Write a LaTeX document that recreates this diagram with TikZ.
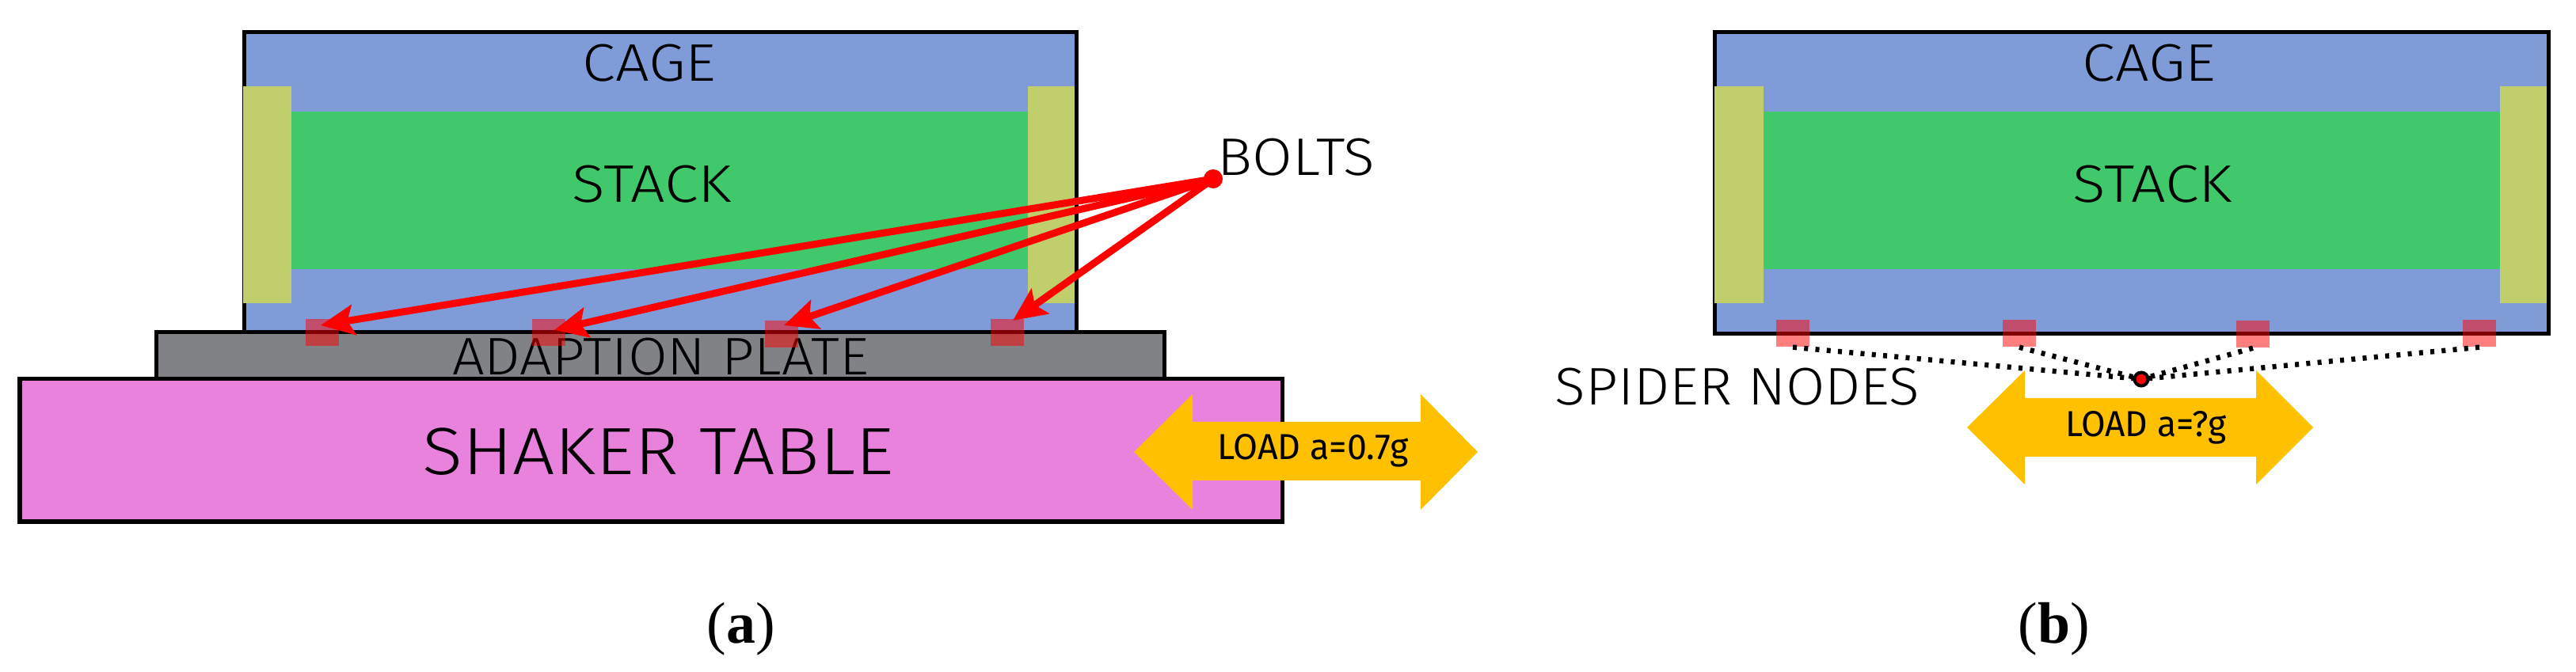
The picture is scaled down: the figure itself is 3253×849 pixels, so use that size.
\documentclass[tikz,border=0pt]{standalone}
\usepackage{fontspec}
\setmainfont{Fira Sans Light}
\newfontfamily\capfont{Liberation Serif}
\newfontfamily\loadfont{Fira Sans}
\usetikzlibrary{arrows.meta}
\definecolor{cageblue}{HTML}{7F9CD8}
\definecolor{stackgreen}{HTML}{40C96B}
\definecolor{sideyellow}{HTML}{C0CE6C}
\definecolor{plategray}{HTML}{808285}
\definecolor{tablepink}{HTML}{E982DD}
\definecolor{loadgold}{HTML}{FFC000}
\tikzset{
  x=0.01cm,y=-0.01cm,
  box/.style={draw=black,line width=0.05cm},
  lbl/.style={inner sep=0pt,text=black},
  boltbox/.style={fill=red,fill opacity=.5,draw=none,inner sep=0pt,minimum width=0.42cm,minimum height=0.34cm},
  redarrow/.style={draw=red,line width=0.09cm,-{Stealth[length=0.42cm,width=0.38cm,inset=0.08cm]}},
  spiderline/.style={draw=black,line width=0.065cm,dash pattern=on 0.05cm off 0.093cm},
}
\newcommand{\fs}[1]{\fontsize{#1}{#1}\selectfont}
\newcommand{\wdx}[2]{\scalebox{#1}[1]{#2}}
\begin{document}
\begin{tikzpicture}
\useasboundingbox (0,0) rectangle (3253,849);
% ---------- (a)
\path[box,fill=cageblue] (308,41) rectangle (1359,420);
\fill[stackgreen] (368,141) rectangle (1298,340);
\fill[sideyellow] (307,109) rectangle (368,383);
\fill[sideyellow] (1298,109) rectangle (1357,383);
\path[box,fill=plategray] (197,420) rectangle (1470,479);
\path[box,fill=tablepink] (25,479) rectangle (1619,659);
\node[lbl,font=\fs{19}] (cagea) at (820,80) {\wdx{1.13}{CAGE}};
\node[lbl,font=\fs{19}] (stacka) at (823,233) {\wdx{1.155}{STACK}};
\node[lbl,font=\fs{19}] (plate) at (834,451) {\wdx{1.08}{ADAPTION PLATE}};
\node[lbl,font=\fs{24}] (shaker) at (831,571) {\wdx{1.12}{SHAKER TABLE}};
\node[lbl,font=\fs{19},anchor=west] (bolts) at (1537,199) {\wdx{1.10}{BOLTS}};
\fill[loadgold] (1432,571) -- (1506,498) -- (1506,533) -- (1794,533) -- (1794,498) -- (1866,571) -- (1794,644) -- (1794,607) -- (1506,607) -- (1506,644) -- cycle;
\node[lbl,font=\loadfont\fs{13}] (loada) at (1658,569) {\wdx{0.98}{LOAD a=0.7g}};
\node[boltbox] (b1) at (407,420) {};
\node[boltbox] (b2) at (693,420) {};
\node[boltbox] (b3) at (987,422) {};
\node[boltbox] (b4) at (1272,420) {};
\node[circle,fill=red,inner sep=0pt,minimum size=0.24cm] (hub) at (1532,226) {};
\coordinate (t1) at (405,411);
\coordinate (t2) at (700,417);
\coordinate (t3) at (990,411);
\coordinate (t4) at (1279,405);
\draw[redarrow] (hub.center) -- (t1);
\draw[redarrow] (hub.center) -- (t2);
\draw[redarrow] (hub.center) -- (t3);
\draw[redarrow] (hub.center) -- (t4);
\node[lbl,font=\capfont\fs{21}] (capa) at (936,795) {(\textbf{a})};
% ---------- (b)
\path[box,fill=cageblue] (2165,41) rectangle (3218,422);
\fill[stackgreen] (2227,141) rectangle (3157,340);
\fill[sideyellow] (2165,109) rectangle (2227,383);
\fill[sideyellow] (3157,109) rectangle (3216,383);
\node[lbl,font=\fs{19}] (cageb) at (2714,80) {\wdx{1.13}{CAGE}};
\node[lbl,font=\fs{19}] (stackb) at (2718,233) {\wdx{1.155}{STACK}};
\node[lbl,font=\fs{19}] (spidertxt) at (2194,489) {\wdx{1.07}{SPIDER NODES}};
\fill[loadgold] (2484,540) -- (2557,468) -- (2557,503) -- (2849,503) -- (2849,468) -- (2921,540) -- (2849,612) -- (2849,577) -- (2557,577) -- (2557,612) -- cycle;
\node[lbl,font=\loadfont\fs{13}] (loadb) at (2710,540) {\wdx{0.97}{LOAD a=?g}};
\node[boltbox] (n1) at (2264,421) {};
\node[boltbox] (n2) at (2550,421) {};
\node[boltbox] (n3) at (2845,422) {};
\node[boltbox] (n4) at (3131,421) {};
\node[circle,fill=red,draw=black,line width=0.04cm,inner sep=0pt,minimum size=0.17cm] (spider) at (2704,479) {};
\draw[spiderline] (n1.south) -- (spider.center);
\draw[spiderline] (n2.south) -- (spider.center);
\draw[spiderline] (n3.south) -- (spider.center);
\draw[spiderline] (n4.south) -- (spider.center);
\node[circle,fill=red,inner sep=0pt,minimum size=0.1cm] (spidercore) at (spider.center) {};
\node[lbl,font=\capfont\fs{21}] (capb) at (2594,795) {(\textbf{b})};
\end{tikzpicture}
\end{document}
